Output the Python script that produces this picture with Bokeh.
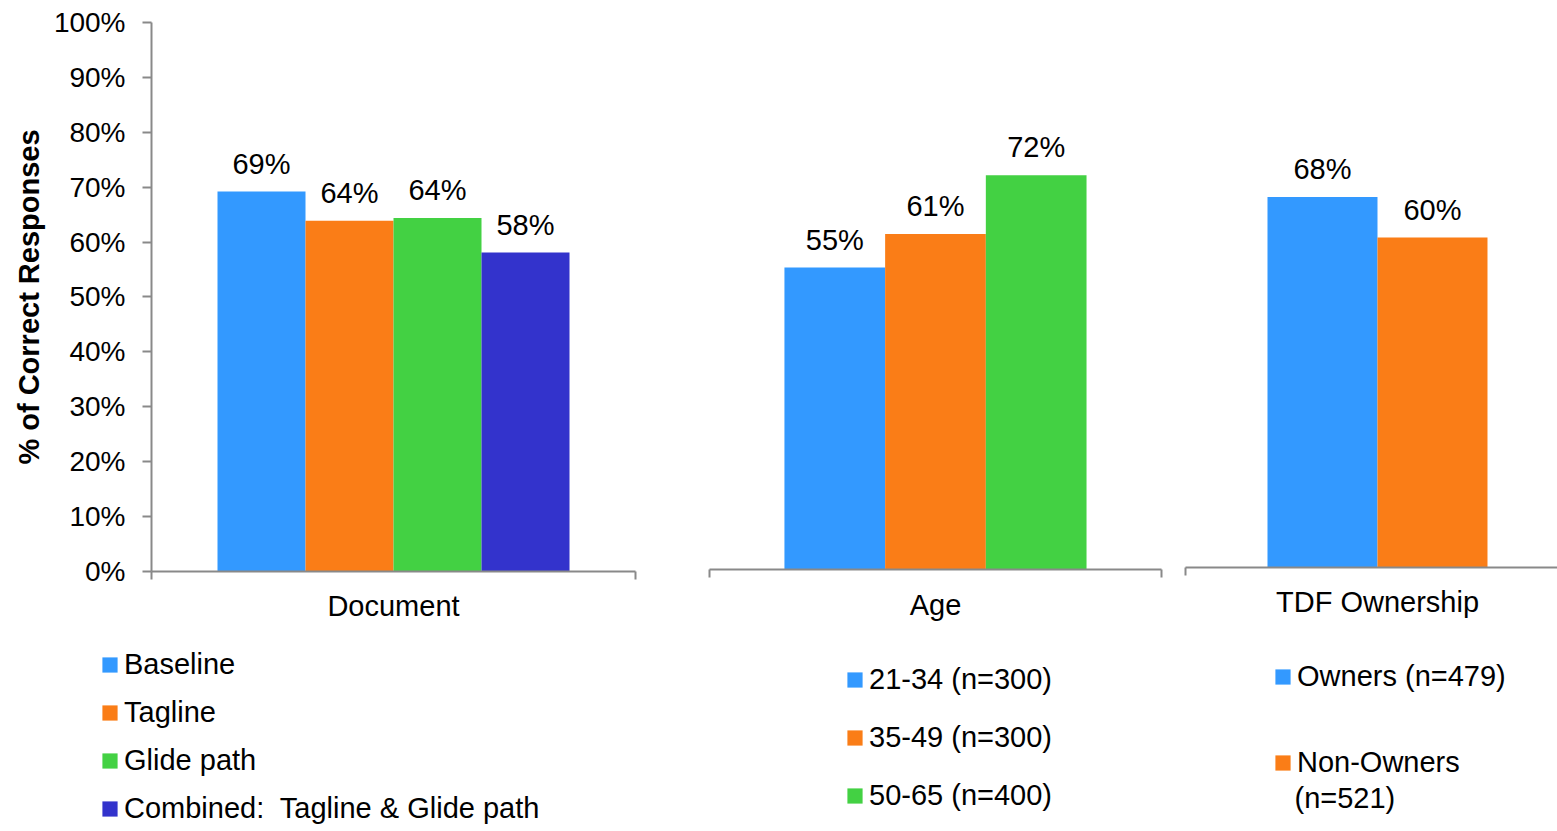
import math
from bokeh.plotting import figure
from bokeh.models import (Range1d, FixedTicker, NumeralTickFormatter, Legend,
                          LegendItem, Label, ColumnDataSource, LinearAxis)
from bokeh.embed import file_html
from bokeh.resources import INLINE
from bokeh.core.properties import value

FONT = "Liberation Sans"
AXIS_GRAY = "#898989"

# ---- data ----
y_title = "% of Correct Responses"
y_ticks = [0.0, 0.1, 0.2, 0.3, 0.4, 0.5, 0.6, 0.7, 0.8, 0.9, 1.0]

doc_group = "Document"
doc_series = ["Baseline", "Tagline", "Glide path", "Combined:  Tagline & Glide path"]
doc_values = [0.692, 0.639, 0.644, 0.581]
doc_labels = ["69%", "64%", "64%", "58%"]
doc_colors = ["#3399FF", "#FA7D17", "#43D143", "#3333CC"]

age_group = "Age"
age_series = ["21-34 (n=300)", "35-49 (n=300)", "50-65 (n=400)"]
age_values = [0.550, 0.611, 0.718]
age_labels = ["55%", "61%", "72%"]
age_colors = ["#3399FF", "#FA7D17", "#43D143"]

tdf_group = "TDF Ownership"
tdf_series = ["Owners (n=479)", "Non-Owners"]
tdf_series_note = "(n=521)"
tdf_values = [0.675, 0.601]
tdf_labels = ["68%", "60%"]
tdf_colors = ["#3399FF", "#FA7D17"]

# ---- figure: frame fills the whole canvas ----
p = figure(width=1557, height=831, title=None,
           x_range=Range1d(-4.4659, 13.227), y_range=Range1d(-0.47359, 1.04007),
           x_axis_location=None, y_axis_location=None,
           output_backend="svg", toolbar_location=None,
           min_border=0, min_border_left=0, min_border_right=0,
           min_border_top=0, min_border_bottom=0)
p.outline_line_color = None
p.grid.visible = False
p.background_fill_color = "white"
p.border_fill_color = "white"

p.extra_x_ranges = {"x2": Range1d(-9.285, 6.177), "x3": Range1d(-12.518, 1.6364)}
p.extra_y_ranges = {"y2": Range1d(-0.47723, 1.03643), "y3": Range1d(-0.48087, 1.03279)}

panels = [
    dict(group=doc_group, series=doc_series, values=doc_values, labels=doc_labels,
         colors=doc_colors, xr="default", yr="default", bounds=(-2.75, 2.75),
         minor=[-2.75, 2.75], standoff=11, leg_loc=(100, 6), leg_spacing=15),
    dict(group=age_group, series=age_series, values=age_values, labels=age_labels,
         colors=age_colors, xr="x2", yr="y2", bounds=(-2.24, 2.24),
         minor=[-2.24, 2.24], standoff=11, leg_loc=(845, 19), leg_spacing=25),
    dict(group=tdf_group, series=tdf_series, values=tdf_values, labels=tdf_labels,
         colors=tdf_colors, xr="x3", yr="y3", bounds=(-1.745, 1.6364),
         minor=[-1.745], standoff=10, leg_loc=(1273, 52), leg_spacing=53),
]

for pn in panels:
    n = len(pn["series"])
    xs = [i - (n - 1) / 2 for i in range(n)]
    src = ColumnDataSource(dict(x=xs, top=pn["values"], label=pn["labels"],
                                color=pn["colors"], name=pn["series"]))
    r = p.vbar(x="x", top="top", bottom=0, width=1.0, fill_color="color",
               line_color=None, source=src,
               x_range_name=pn["xr"], y_range_name=pn["yr"])
    p.text(x="x", y="top", text="label", source=src, text_align="center",
           text_baseline="middle", y_offset=-28,
           text_font=value(FONT), text_font_size="29px", text_color="black",
           x_range_name=pn["xr"], y_range_name=pn["yr"])

    xa = LinearAxis(x_range_name=pn["xr"], y_range_name=pn["yr"], fixed_location=0,
                    bounds=pn["bounds"],
                    ticker=FixedTicker(ticks=[0], minor_ticks=pn["minor"]),
                    major_label_overrides={0: pn["group"]})
    xa.major_tick_out = 0
    xa.major_tick_in = 0
    xa.minor_tick_out = 8
    xa.minor_tick_in = 0
    xa.minor_tick_line_color = AXIS_GRAY
    xa.minor_tick_line_width = 2
    xa.axis_line_color = AXIS_GRAY
    xa.axis_line_width = 2
    xa.major_label_text_font = FONT
    xa.major_label_text_font_size = "29px"
    xa.major_label_text_color = "black"
    xa.major_label_standoff = pn["standoff"]
    p.add_layout(xa, "below")

    items = [LegendItem(label=s, renderers=[r], index=i)
             for i, s in enumerate(pn["series"])]
    leg = Legend(items=items, location=pn["leg_loc"], orientation="vertical",
                 padding=0, margin=0, border_line_alpha=0, background_fill_alpha=0,
                 glyph_width=19, glyph_height=19, label_standoff=5,
                 spacing=pn["leg_spacing"], label_text_font=FONT,
                 label_text_font_size="29px", label_text_color="black")
    p.add_layout(leg, "center")

# y axis of the first panel
ya = LinearAxis(fixed_location=-2.75, bounds=(0, 1),
                ticker=FixedTicker(ticks=y_ticks, minor_ticks=[]),
                formatter=NumeralTickFormatter(format="0%"))
ya.axis_line_color = AXIS_GRAY
ya.axis_line_width = 2
ya.major_tick_line_color = AXIS_GRAY
ya.major_tick_line_width = 2
ya.major_tick_out = 9
ya.major_tick_in = 0
ya.minor_tick_line_color = None
ya.major_label_text_font = FONT
ya.major_label_text_font_size = "28px"
ya.major_label_text_color = "black"
ya.major_label_standoff = 17
p.add_layout(ya, "left")

p.add_layout(Label(x=28, y=534.5, x_units="screen", y_units="screen",
                   text=y_title, angle=math.pi / 2, text_font=FONT,
                   text_font_size="29px", text_font_style="bold",
                   text_align="center", text_baseline="middle", text_color="black"))

p.add_layout(Label(x=1294, y=34, x_units="screen", y_units="screen",
                   text=tdf_series_note, text_font=FONT, text_font_size="29px",
                   text_baseline="middle", text_align="left", text_color="black"))

open("out.html", "w").write(file_html(p, INLINE))
